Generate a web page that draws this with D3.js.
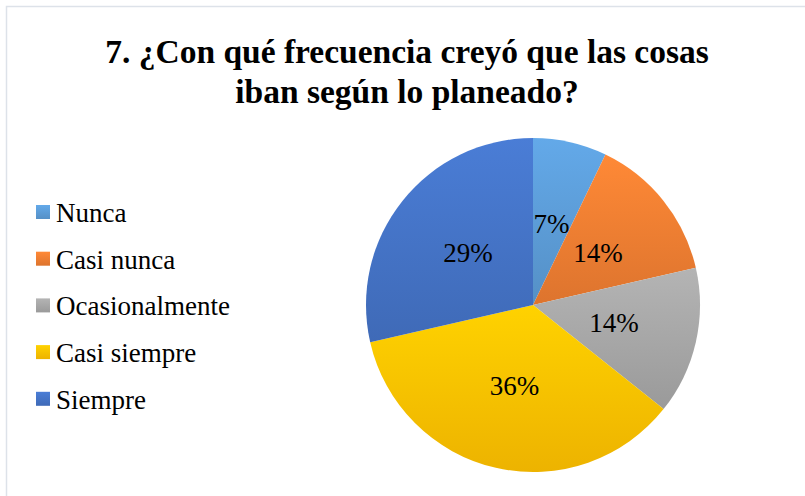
<!DOCTYPE html>
<html>
<head>
<meta charset="utf-8">
<script src="https://cdn.jsdelivr.net/npm/d3@7"></script>
<style>
  body { margin: 0; background: #fff; }
</style>
</head>
<body>
<svg id="chart" width="805" height="496"></svg>
<script>
// Pregunta 7 (counts out of 14)
var categories = ["Nunca", "Casi nunca", "Ocasionalmente", "Casi siempre", "Siempre"];
var counts     = [1, 2, 2, 5, 4];
var colors     = ["#5B9BD5", "#ED7D31", "#A5A5A5", "#FFC000", "#4472C4"];
var titleLines = ["7. ¿Con qué frecuencia creyó que las cosas", "iban según lo planeado?"];

var W = 805, H = 496;
var serif = "'Liberation Serif'";
var svg = d3.select("#chart");

// chart area border (only top/left visible, the rest runs off the picture)
svg.append("rect")
  .attr("x", 6.5).attr("y", 6.5)
  .attr("width", W).attr("height", H)
  .attr("fill", "none")
  .attr("stroke", "#dde2e9")
  .attr("stroke-width", 1.5);

// light -> dark vertical gradient per slice, like the office preset
var defs = svg.append("defs");
colors.forEach(function(c, i) {
  var g = defs.append("linearGradient")
    .attr("id", "grad" + i)
    .attr("x1", 0).attr("y1", 0).attr("x2", 0).attr("y2", 1);
  g.append("stop").attr("offset", "0%").attr("stop-color", d3.color(c).brighter(0.25));
  g.append("stop").attr("offset", "100%").attr("stop-color", d3.color(c).darker(0.2));
});

// title
svg.append("g").selectAll("text")
  .data(titleLines)
  .enter().append("text")
  .attr("x", 407)
  .attr("y", (d, i) => 63 + i * 40)
  .attr("text-anchor", "middle")
  .style("font-family", serif)
  .style("font-weight", "bold")
  .style("font-size", "33.5px")
  .text(d => d);

// pie
var cx = 533, cy = 305, R = 167;
var total = d3.sum(counts);
var pie = d3.pie().sort(null).value(d => d);
var arcs = pie(counts);
var arc = d3.arc().innerRadius(0).outerRadius(R);
var labelArc = d3.arc().innerRadius(83).outerRadius(83);

var gPie = svg.append("g").attr("transform", "translate(" + cx + "," + cy + ")");
gPie.selectAll("path")
  .data(arcs)
  .enter().append("path")
  .attr("d", arc)
  .attr("fill", (d, i) => "url(#grad" + i + ")");

gPie.selectAll("text")
  .data(arcs)
  .enter().append("text")
  .attr("transform", d => "translate(" + labelArc.centroid(d) + ")")
  .attr("text-anchor", "middle")
  .attr("dy", "0.33em")
  .style("font-family", serif)
  .style("font-size", "27px")
  .text(d => Math.round(d.data / total * 100) + "%");

// legend
var legend = svg.append("g").attr("transform", "translate(36,205)");
var item = legend.selectAll("g")
  .data(categories)
  .enter().append("g")
  .attr("transform", (d, i) => "translate(0," + (i * 46.7) + ")");
item.append("rect")
  .attr("width", 14).attr("height", 14)
  .attr("fill", (d, i) => "url(#grad" + i + ")");
item.append("text")
  .attr("x", 20).attr("y", 17)
  .style("font-family", serif)
  .style("font-size", "27px")
  .text(d => d);
</script>
</body>
</html>
